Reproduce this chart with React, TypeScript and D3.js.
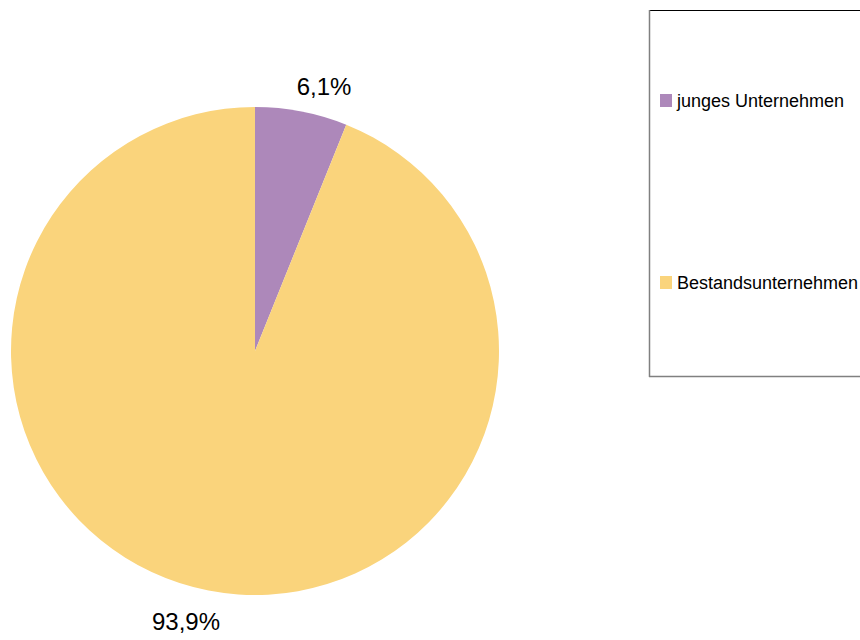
import React from "react";
import * as d3 from "d3";

const categories = ["junges Unternehmen", "Bestandsunternehmen"];
const values = [6.1, 93.9];
const valueLabels = ["6,1%", "93,9%"];
const colors = ["#AD88BA", "#FAD47C"];

const W = 860;
const H = 640;
const cx = 255;
const cy = 351;
const R = 244;

export default function App() {
  const pie = d3
    .pie<number>()
    .sort(null)
    .value((d) => d);
  const arcs = pie(values);
  const arcGen = d3.arc<d3.PieArcDatum<number>>().innerRadius(0).outerRadius(R);
  const labelR = 276;
  const labelOffset = (3.5 * Math.PI) / 180;

  return (
    <svg
      width={W}
      height={H}
      style={{ position: "absolute", left: 0, top: 0, background: "#fff" }}
      fontFamily="'Liberation Sans', Arial, sans-serif"
    >
      <g transform={`translate(${cx},${cy})`}>
        {arcs.map((a, i) => (
          <path key={i} d={arcGen(a) || ""} fill={colors[i]} />
        ))}
        {arcs.map((a, i) => {
          const mid = (a.startAngle + a.endAngle) / 2 + labelOffset;
          const x = labelR * Math.sin(mid);
          const y = -labelR * Math.cos(mid) + 3;
          return (
            <text
              key={i}
              x={x}
              y={y}
              textAnchor="middle"
              dominantBaseline="central"
              fontSize={24}
              fill="#000"
            >
              {valueLabels[i]}
            </text>
          );
        })}
      </g>
      <g>
        <line x1={649} y1={10.5} x2={W} y2={10.5} stroke="#000" strokeWidth={1} />
        <line x1={649.5} y1={10} x2={649.5} y2={377} stroke="#808080" strokeWidth={1.5} />
        <line x1={649} y1={376.5} x2={W} y2={376.5} stroke="#808080" strokeWidth={1.5} />
        {categories.map((c, i) => {
          const y = i === 0 ? 107 : 289;
          return (
            <g key={c}>
              <rect x={660} y={y - 13} width={12} height={13} fill={colors[i]} />
              <text x={677} y={y} fontSize={18} fill="#000">
                {c}
              </text>
            </g>
          );
        })}
      </g>
    </svg>
  );
}
